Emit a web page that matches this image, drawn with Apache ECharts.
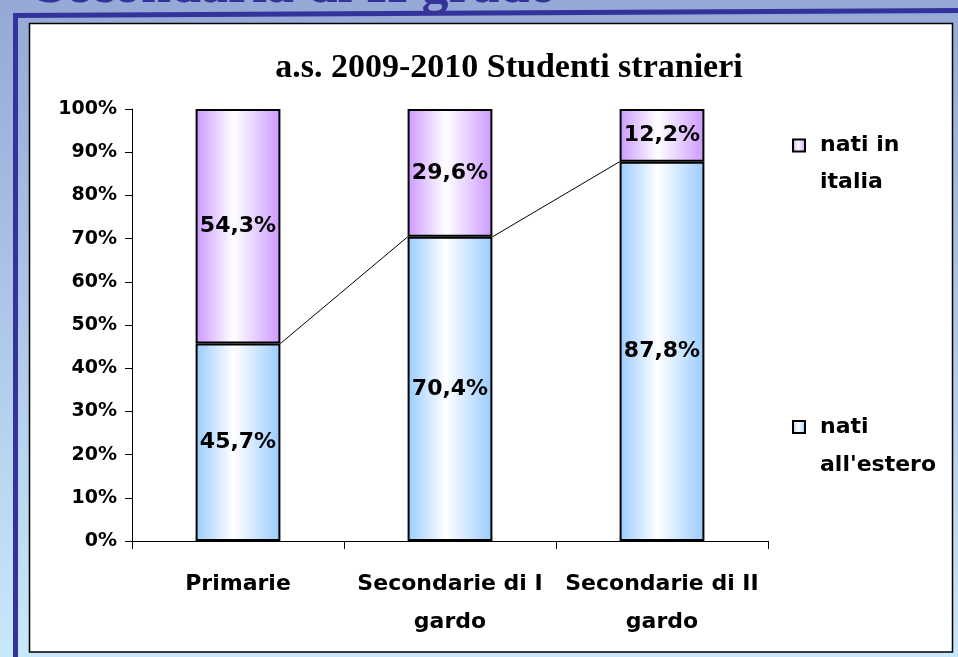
<!DOCTYPE html>
<html>
<head>
<meta charset="utf-8">
<script src="https://cdn.jsdelivr.net/npm/echarts@6/dist/echarts.min.js"></script>
<style>
html,body{margin:0;padding:0;}
#c{width:958px;height:657px;}
</style>
</head>
<body>
<div id="c"></div>
<script>
const categories = ['Primarie', 'Secondarie di I\ngardo', 'Secondarie di II\ngardo'];
const natiEstero = [45.7, 70.4, 87.8];
const natiItalia = [54.3, 29.6, 12.2];
const yTicks = [0, 10, 20, 30, 40, 50, 60, 70, 80, 90, 100];
const titleText = 'a.s. 2009-2010 Studenti stranieri';
const slideTitle = 'Secondaria di II grado';

function grad(c) {
  return new echarts.graphic.LinearGradient(0, 0, 1, 0, [
    {offset: 0, color: c}, {offset: 0.45, color: '#ffffff'}, {offset: 1, color: c}
  ]);
}
const blue = grad('#99ccff');
const purple = grad('#cc99ff');

const seriesLineData = [];
for (let i = 0; i < natiEstero.length - 1; i++) {
  seriesLineData.push([i, natiEstero[i], i + 1, natiEstero[i + 1]]);
}
const fmt = v => v.toFixed(1).replace('.', ',') + '%';
const sans = 'DejaVu Sans';

const chart = echarts.init(document.getElementById('c'));
chart.setOption({
  animation: false,
  backgroundColor: new echarts.graphic.LinearGradient(0, 0, 0, 1, [
    {offset: 0, color: '#96a8d6'}, {offset: 1, color: '#c8e8fb'}
  ]),
  graphic: [
    {type: 'text', z: -5, left: 36, top: -39, style: {text: slideTitle, font: 'bold 54px "Liberation Serif"', fill: '#333399'}},
    {type: 'polygon', z: -4, shape: {points: [[13, 13], [958, 8], [958, 13], [13, 18]]}, style: {fill: '#333399'}},
    {type: 'rect', z: -4, shape: {x: 13, y: 13, width: 5, height: 644}, style: {fill: '#333399'}},
    {type: 'rect', z: -3, shape: {x: 29.5, y: 23.5, width: 923, height: 628.5}, style: {fill: '#ffffff', stroke: '#000', lineWidth: 1.5}}
  ],
  title: {
    text: titleText, left: 504, top: 46, textAlign: 'center',
    textStyle: {fontFamily: 'Liberation Serif', fontWeight: 'bold', fontSize: 34, color: '#000'}
  },
  legend: [
    {data: ['nati in italia'], orient: 'vertical', left: 792, top: 90, padding: 0,
     itemWidth: 12, itemHeight: 12, itemGap: 0, icon: 'rect', formatter: () => '\nnati in\nitalia',
     textStyle: {fontFamily: sans, fontWeight: 'bold', fontSize: 22, color: '#000', lineHeight: 37, padding: [0, 0, 0, 10]}},
    {data: ["nati all'estero"], orient: 'vertical', left: 792, top: 370, padding: 0,
     itemWidth: 12, itemHeight: 12, itemGap: 0, icon: 'rect', formatter: () => "\nnati\nall'estero",
     textStyle: {fontFamily: sans, fontWeight: 'bold', fontSize: 22, color: '#000', lineHeight: 38, padding: [0, 0, 0, 10]}}
  ],
  grid: {left: 132, right: 190, top: 109, bottom: 116, containLabel: false},
  xAxis: {
    type: 'category', data: categories,
    axisLine: {lineStyle: {color: '#000', width: 1}},
    axisTick: {show: true, length: 8, lineStyle: {color: '#000'}},
    axisLabel: {interval: 0, margin: 24, color: '#000', fontFamily: sans, fontWeight: 'bold', fontSize: 22, lineHeight: 38}
  },
  yAxis: {
    type: 'value', min: yTicks[0], max: yTicks[yTicks.length - 1], interval: 10,
    axisLine: {show: true, lineStyle: {color: '#000', width: 1}},
    axisTick: {show: true, length: 7, lineStyle: {color: '#000'}},
    splitLine: {show: false},
    axisLabel: {formatter: '{value}%', margin: 15, color: '#000', fontFamily: sans, fontWeight: 'bold', fontSize: 19}
  },
  series: [
    {name: "nati all'estero", type: 'bar', stack: 's', barWidth: '40%', data: natiEstero,
     itemStyle: {color: blue, borderColor: '#000', borderWidth: 2},
     label: {show: true, position: 'inside', formatter: p => fmt(p.value), color: '#000', fontFamily: sans, fontWeight: 'bold', fontSize: 22}},
    {name: 'nati in italia', type: 'bar', stack: 's', barWidth: '40%', data: natiItalia,
     itemStyle: {color: purple, borderColor: '#000', borderWidth: 2},
     label: {show: true, position: 'inside', formatter: p => fmt(p.value), color: '#000', fontFamily: sans, fontWeight: 'bold', fontSize: 22}},
    {type: 'custom', name: 'serie', data: seriesLineData, silent: true, z: 5,
     encode: {x: [0, 2], y: [1, 3]},
     renderItem: function (params, api) {
       const p1 = api.coord([api.value(0), api.value(1)]);
       const p2 = api.coord([api.value(2), api.value(3)]);
       const half = api.size([1, 0])[0] * 0.2;
       return {type: 'line', shape: {x1: p1[0] + half, y1: p1[1], x2: p2[0] - half, y2: p2[1]},
               style: {stroke: '#000', lineWidth: 1}};
     }}
  ]
});
</script>
</body>
</html>
